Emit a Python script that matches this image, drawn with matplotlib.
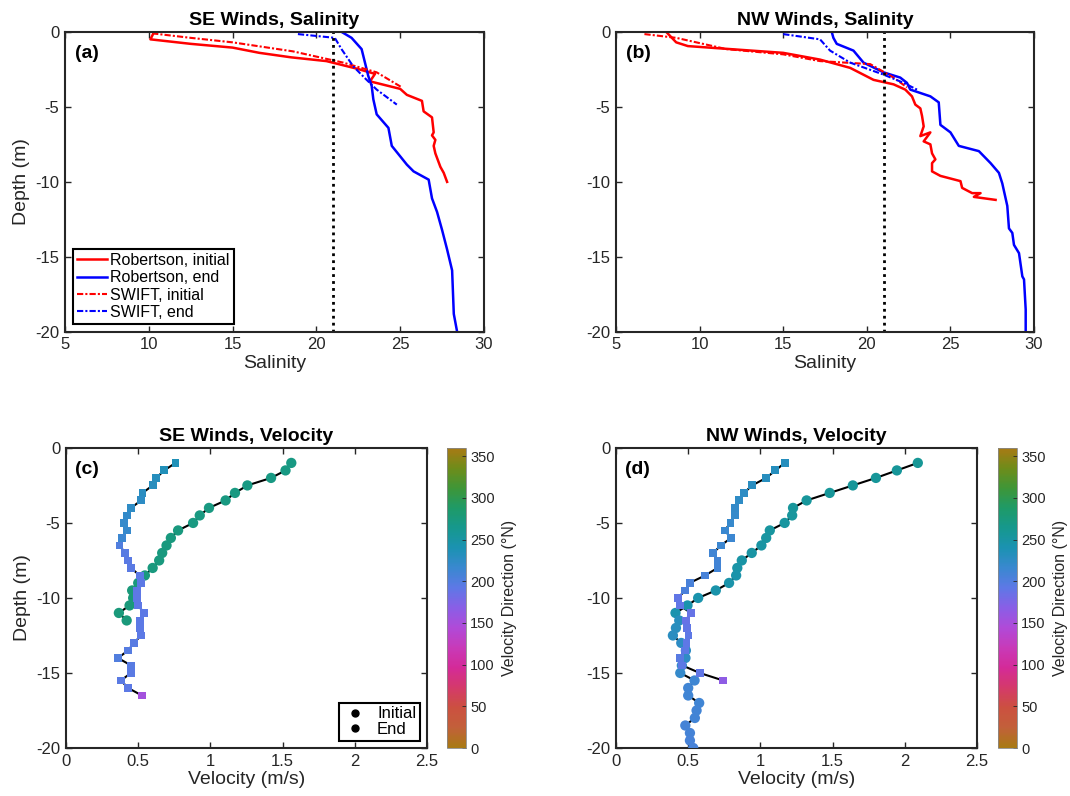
import numpy as np
import matplotlib
matplotlib.use("Agg")
import matplotlib.pyplot as plt
from matplotlib.colors import LinearSegmentedColormap
from matplotlib.lines import Line2D

plt.rcParams['font.family'] = ['Liberation Sans', 'DejaVu Sans']
plt.rcParams['axes.linewidth'] = 1.5
plt.rcParams['axes.unicode_minus'] = False

# ---- salinity profiles, SE winds (a) ----
se_rob_init_S = [10.3, 10.1, 12.5, 15.0, 16.6, 18.5, 20.6, 22.4, 23.5, 23.2, 25.0, 25.4, 26.3, 26.4,
                 26.9, 27.0, 26.9, 27.1, 27.0, 27.1, 27.4, 27.6, 27.8]
se_rob_init_z = [-0.05, -0.5, -0.8, -1.05, -1.4, -1.7, -1.95, -2.45, -2.8, -3.3, -3.8, -4.2, -4.6, -5.3,
                 -5.7, -6.7, -6.9, -7.2, -7.6, -8.1, -9.0, -9.4, -10.0]
se_rob_end_S = [21.5, 22.1, 22.7, 22.9, 23.1, 23.3, 23.4, 23.6, 24.3, 24.5, 25.4, 25.8, 26.7, 26.9,
                27.2, 27.5, 27.8, 28.1, 28.2, 28.4]
se_rob_end_z = [0, -0.4, -1.15, -2.05, -2.95, -3.6, -4.5, -5.5, -6.4, -7.6, -8.85, -9.3, -9.85, -11.1,
                -12.0, -13.2, -14.5, -15.9, -18.8, -20]
se_swift_init_S = [10.2, 12.5, 15.0, 18.6, 21.6, 23.6, 25.1]
se_swift_init_z = [-0.1, -0.4, -0.7, -1.3, -2.05, -2.7, -3.7]
se_swift_end_S = [18.9, 21.1, 21.5, 22.2, 23.0, 23.6, 24.8]
se_swift_end_z = [-0.15, -0.4, -1.15, -2.3, -3.2, -3.85, -4.85]

# ---- salinity profiles, NW winds (b) ----
nw_rob_init_S = [8.0, 8.6, 9.3, 15.0, 17.2, 19.0, 20.4, 21.6, 22.3, 22.7, 22.9, 23.2, 23.3, 23.4, 23.2,
                 23.8, 23.4, 23.8, 23.9, 24.1, 23.9, 23.9, 24.4, 25.6, 25.7, 26.3, 26.8, 26.4, 27.7]
nw_rob_init_z = [0, -0.7, -0.95, -1.4, -1.85, -2.4, -3.2, -3.5, -3.85, -4.3, -4.85, -5.1, -5.6, -6.3, -6.95,
                 -6.7, -7.3, -7.5, -8.1, -8.5, -8.75, -9.3, -9.6, -9.95, -10.4, -10.75, -10.75, -11.0, -11.2]
nw_rob_end_S = [17.9, 18.0, 18.2, 19.2, 19.8, 21.0, 22.0, 22.4, 22.6, 23.8, 24.3, 24.4, 25.0, 25.5, 26.7,
                27.4, 27.9, 28.1, 28.4, 28.5, 28.7, 28.8, 29.1, 29.3, 29.4, 29.5, 29.5]
nw_rob_end_z = [0, -0.4, -0.8, -1.25, -2.05, -2.7, -3.05, -3.4, -3.85, -4.3, -4.7, -6.2, -6.7, -7.6, -7.95,
                -8.75, -9.4, -10.1, -11.6, -13.1, -13.4, -14.2, -14.75, -16.3, -16.5, -18.5, -20]
nw_swift_init_S = [6.7, 8.6, 11.6, 15.0, 17.2, 20.2, 21.6, 22.4]
nw_swift_init_z = [-0.15, -0.4, -1.15, -1.5, -1.95, -2.15, -3.05, -3.7]
nw_swift_end_S = [15.0, 17.2, 17.8, 19.0, 21.0, 22.2, 23.0]
nw_swift_end_z = [-0.15, -0.5, -1.25, -2.05, -2.85, -3.4, -3.85]

S_crit = 21

# ---- velocity profiles, SE winds (c) ----
se_init_z = [-1.0, -1.5, -2.0, -2.5, -3.0, -3.5, -4.0, -4.5, -5.0, -5.5, -6.0, -6.5, -7.0, -7.5, -8.0,
             -8.5, -9.0, -9.5, -10.0, -10.5, -11.0, -11.5]
se_init_v = [1.56, 1.52, 1.42, 1.256, 1.17, 1.105, 0.99, 0.926, 0.88, 0.776, 0.726, 0.696, 0.666, 0.645,
             0.60, 0.546, 0.50, 0.458, 0.465, 0.44, 0.366, 0.42]
se_init_dir = [270, 270, 271, 271, 272, 272, 272, 272, 272, 273, 273, 273, 273, 274, 274, 274, 275, 276,
               276, 276, 277, 277]
se_end_z = [-1.0, -1.5, -2.0, -2.5, -3.0, -3.5, -4.0, -4.5, -5.0, -5.5, -6.0, -6.5, -7.0, -7.5, -8.0, -8.5,
            -9.0, -9.5, -10.0, -10.5, -11.0, -11.5, -12.0, -12.5, -13.0, -13.5, -14.0, -14.5, -15.0, -15.5,
            -16.0, -16.5]
se_end_v = [0.758, 0.68, 0.625, 0.60, 0.53, 0.52, 0.45, 0.42, 0.40, 0.42, 0.39, 0.37, 0.41, 0.43, 0.45, 0.51,
            0.52, 0.49, 0.49, 0.50, 0.54, 0.51, 0.51, 0.52, 0.47, 0.43, 0.36, 0.45, 0.45, 0.38, 0.43, 0.525]
se_end_dir = [236, 234, 232, 230, 228, 226, 224, 222, 220, 218, 214, 200, 196, 195, 195, 193, 193, 192,
              192, 192, 193, 193, 194, 194, 196, 198, 200, 196, 195, 195, 194, 152]

# ---- velocity profiles, NW winds (d) ----
nw_init_z = [-1.0, -1.5, -2.0, -2.5, -3.0, -3.5, -4.0, -4.5, -5.0, -5.5, -6.0, -6.5, -7.0, -7.5, -8.0, -8.5,
             -9.0, -9.5, -10.0, -10.5, -11.0, -11.5, -12.0, -12.5, -13.0, -13.5, -14.0, -14.5, -15.0, -15.5,
             -16.0, -16.5, -17.0, -17.5, -18.0, -18.5, -19.0, -19.5, -20.0]
nw_init_v = [2.09, 1.945, 1.80, 1.64, 1.48, 1.32, 1.226, 1.22, 1.168, 1.065, 1.04, 1.007, 0.94, 0.871, 0.84,
             0.832, 0.783, 0.691, 0.569, 0.495, 0.412, 0.438, 0.415, 0.394, 0.452, 0.484, 0.481, 0.456,
             0.445, 0.544, 0.50, 0.50, 0.576, 0.558, 0.546, 0.48, 0.512, 0.512, 0.535]
nw_init_dir = [258, 257, 257, 256, 256, 255, 255, 254, 253, 252, 251, 250, 249, 248, 247, 246, 245, 245,
               244, 244, 243, 232, 230, 228, 226, 225, 224, 222, 220, 213, 212, 212, 211, 210, 210, 209,
               209, 208, 208]
nw_end_z = [-1.0, -1.5, -2.0, -2.5, -3.0, -3.5, -4.0, -4.5, -5.0, -5.5, -6.0, -6.5, -7.0, -7.5, -8.0, -8.5,
            -9.0, -9.5, -10.0, -10.5, -11.0, -11.5, -12.0, -12.5, -13.0, -13.5, -14.0, -14.5, -15.0, -15.5]
nw_end_v = [1.168, 1.104, 1.04, 0.942, 0.887, 0.853, 0.825, 0.823, 0.793, 0.753, 0.797, 0.726, 0.673, 0.703,
            0.703, 0.617, 0.51, 0.479, 0.429, 0.442, 0.518, 0.482, 0.493, 0.502, 0.488, 0.479, 0.445, 0.46,
            0.58, 0.742]
nw_end_dir = [232, 231, 230, 228, 226, 224, 222, 220, 218, 216, 215, 214, 212, 210, 210, 208, 206, 204,
              190, 190, 188, 188, 190, 192, 192, 194, 196, 194, 190, 165]

dir_ticks = [0, 50, 100, 150, 200, 250, 300, 350]

# cyclic phase-like colormap (0-360 degrees)
phase_colors = ['#a87a14', '#c2603a', '#cc5040', '#d43a6a', '#d42a98', '#c83ab8', '#b04ad8', '#8a5ee6',
                '#5e78e6', '#3a88d0', '#1b92b2', '#16988e', '#1e9a68', '#3e9638', '#6e8c1a', '#a87a14']
phase_cmap = LinearSegmentedColormap.from_list('phase', phase_colors)

dark = '#262626'


def style_axes(ax):
    ax.tick_params(direction='in', top=True, right=True, length=4, width=1.0,
                   labelsize=12, colors=dark, pad=4)
    for sp in ax.spines.values():
        sp.set_color(dark)


fig = plt.figure(figsize=(10.7, 7.96), dpi=100)

sal_axes = [fig.add_axes([0.0607, 0.583, 0.3916, 0.377]),
            fig.add_axes([0.5757, 0.583, 0.3907, 0.377])]
sal_data = [
    (se_rob_init_S, se_rob_init_z, se_rob_end_S, se_rob_end_z, se_swift_init_S, se_swift_init_z,
     se_swift_end_S, se_swift_end_z, 'SE Winds, Salinity', '(a)'),
    (nw_rob_init_S, nw_rob_init_z, nw_rob_end_S, nw_rob_end_z, nw_swift_init_S, nw_swift_init_z,
     nw_swift_end_S, nw_swift_end_z, 'NW Winds, Salinity', '(b)'),
]
dashdot = (0, (3, 1, 1, 1))
for i, (ax, d) in enumerate(zip(sal_axes, sal_data)):
    ax.plot(d[0], d[1], color='red', lw=1.8, label='Robertson, initial')
    ax.plot(d[2], d[3], color='blue', lw=1.8, label='Robertson, end')
    ax.plot(d[4], d[5], color='red', lw=1.5, ls=dashdot, label='SWIFT, initial')
    ax.plot(d[6], d[7], color='blue', lw=1.5, ls=dashdot, label='SWIFT, end')
    ax.axvline(S_crit, color='black', lw=2, ls=(0, (1, 1.5)))
    ax.set_xlim(5, 30)
    ax.set_ylim(-20, 0)
    ax.set_xticks([5, 10, 15, 20, 25, 30])
    ax.set_yticks([-20, -15, -10, -5, 0])
    ax.set_xlabel('Salinity', fontsize=14, color=dark, labelpad=2)
    if i == 0:
        ax.set_ylabel('Depth (m)', fontsize=14, color=dark, labelpad=4)
    ax.set_title(d[8], fontsize=14, fontweight='bold', pad=5)
    ax.text(0.025, 0.955, d[9], transform=ax.transAxes, fontsize=14, fontweight='bold', va='top')
    style_axes(ax)
    if i == 0:
        leg = ax.legend(loc='lower left', fontsize=11.5, frameon=True, fancybox=False,
                        edgecolor='black', framealpha=1, borderpad=0.25, labelspacing=0.15,
                        handlelength=1.9, handletextpad=0.2, borderaxespad=0.5)
        leg.get_frame().set_linewidth(1.5)

vel_axes = [fig.add_axes([0.0617, 0.0603, 0.3374, 0.377]),
            fig.add_axes([0.5757, 0.0603, 0.3374, 0.377])]
cb_axes = [fig.add_axes([0.4178, 0.0603, 0.0178, 0.377]),
           fig.add_axes([0.9327, 0.0603, 0.0178, 0.377])]
vel_data = [
    (se_init_v, se_init_z, se_init_dir, se_end_v, se_end_z, se_end_dir, 'SE Winds, Velocity', '(c)'),
    (nw_init_v, nw_init_z, nw_init_dir, nw_end_v, nw_end_z, nw_end_dir, 'NW Winds, Velocity', '(d)'),
]
for i, (ax, cax, d) in enumerate(zip(vel_axes, cb_axes, vel_data)):
    ax.plot(d[0], d[1], color='black', lw=1.5, zorder=2)
    ax.plot(d[3], d[4], color='black', lw=1.5, zorder=2)
    sc = ax.scatter(d[0], d[1], c=d[2], cmap=phase_cmap, vmin=0, vmax=360, marker='o', s=55,
                    edgecolors='none', zorder=3)
    ax.scatter(d[3], d[4], c=d[5], cmap=phase_cmap, vmin=0, vmax=360, marker='s', s=32,
               edgecolors='none', zorder=4)
    ax.set_xlim(0, 2.5)
    ax.set_ylim(-20, 0)
    ax.set_xticks([0, 0.5, 1, 1.5, 2, 2.5])
    ax.set_xticklabels(['0', '0.5', '1', '1.5', '2', '2.5'])
    ax.set_yticks([-20, -15, -10, -5, 0])
    ax.set_xlabel('Velocity (m/s)', fontsize=14, color=dark, labelpad=2)
    if i == 0:
        ax.set_ylabel('Depth (m)', fontsize=14, color=dark, labelpad=4)
    ax.set_title(d[6], fontsize=14, fontweight='bold', pad=5)
    ax.text(0.025, 0.955, d[7], transform=ax.transAxes, fontsize=14, fontweight='bold', va='top')
    style_axes(ax)
    if i == 0:
        handles = [Line2D([], [], ls='none', marker='o', color='black', markersize=5),
                   Line2D([], [], ls='none', marker='o', color='black', markersize=5)]
        leg = ax.legend(handles, ['Initial', 'End'], loc='lower right', fontsize=12, frameon=True,
                        fancybox=False, edgecolor='black', framealpha=1, borderpad=0.2,
                        labelspacing=0.05, handlelength=1.5, handletextpad=0.6, borderaxespad=0.45)
        leg.get_frame().set_linewidth(1.5)

    cb = fig.colorbar(sc, cax=cax)
    cb.set_ticks(dir_ticks)
    cb.ax.tick_params(labelsize=10.5, colors=dark, direction='in', length=3, width=0.6, pad=3)
    cb.outline.set_linewidth(0.6)
    cb.outline.set_edgecolor('#888888')
    cb.set_label('Velocity Direction (°N)', fontsize=11.5, color=dark, labelpad=5)

fig.savefig('out.png', dpi=100)
